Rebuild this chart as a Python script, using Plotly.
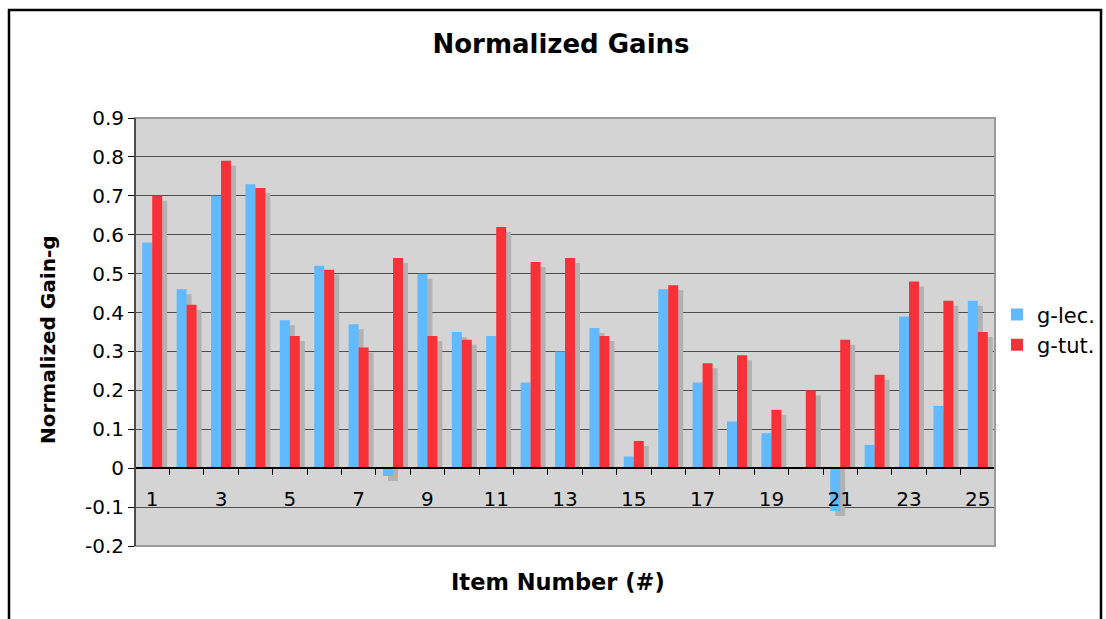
import plotly.graph_objects as go

items = list(range(1, 26))
g_lec = [0.58, 0.46, 0.70, 0.73, 0.38, 0.52, 0.37, -0.02, 0.50, 0.35, 0.34, 0.22, 0.30,
         0.36, 0.03, 0.46, 0.22, 0.12, 0.09, 0.0, -0.11, 0.06, 0.39, 0.16, 0.43]
g_tut = [0.70, 0.42, 0.79, 0.72, 0.34, 0.51, 0.31, 0.54, 0.34, 0.33, 0.62, 0.53, 0.54,
         0.34, 0.07, 0.47, 0.27, 0.29, 0.15, 0.20, 0.33, 0.24, 0.48, 0.43, 0.35]
x_tick_vals = [1, 3, 5, 7, 9, 11, 13, 15, 17, 19, 21, 23, 25]
y_tick_vals = [-0.2, -0.1, 0, 0.1, 0.2, 0.3, 0.4, 0.5, 0.6, 0.7, 0.8, 0.9]
y_tick_text = ["-0.2", "-0.1", "0", "0.1", "0.2", "0.3", "0.4", "0.5", "0.6", "0.7", "0.8", "0.9"]

BLUE = "#61b9ff"
RED = "#f83038"
SHADOW = "#b2b2b2"
FONT = "DejaVu Sans"

W, H = 1106, 619
L, R, T, B = 135, 111, 118, 73
pw, ph = W - L - R, H - T - B
ymin, ymax = -0.2, 0.9
bw = 0.29
dx = 5 / (pw / 25)          # shadow shift in x units
dy = 5 / (ph / (ymax - ymin))  # shadow shift in y units


def shadow(vals):
    return [v - dy if v != 0 else 0 for v in vals]


fig = go.Figure()
fig.add_trace(go.Bar(x=items, y=shadow(g_lec), offset=-bw + dx, width=bw,
                     marker=dict(color=SHADOW, line=dict(width=0)), showlegend=False, hoverinfo="skip"))
fig.add_trace(go.Bar(x=items, y=shadow(g_tut), offset=dx, width=bw,
                     marker=dict(color=SHADOW, line=dict(width=0)), showlegend=False, hoverinfo="skip"))
fig.add_trace(go.Bar(x=items, y=g_lec, offset=-bw, width=bw, name="g-lec.",
                     marker=dict(color=BLUE, line=dict(width=0))))
fig.add_trace(go.Bar(x=items, y=g_tut, offset=0, width=bw, name="g-tut.",
                     marker=dict(color=RED, line=dict(width=0))))

zero_pos = (0 - ymin) / (ymax - ymin)

fig.update_layout(
    width=W, height=H,
    margin=dict(l=L, r=R, t=T, b=B, autoexpand=False),
    paper_bgcolor="white",
    plot_bgcolor="#d4d4d4",
    barmode="overlay",
    font=dict(family=FONT, color="black", size=20),
    title=dict(text="<b>Normalized Gains</b>", x=(561 - L) / pw, xref="paper", xanchor="center",
               y=1 - 44 / H, yanchor="middle", font=dict(size=26, family=FONT)),
    legend=dict(x=(997 - L) / pw, y=0.505, xanchor="left", yanchor="middle",
                font=dict(size=21), bgcolor="rgba(0,0,0,0)", itemwidth=30),
    xaxis=dict(range=[0.5, 25.5], anchor="free", position=zero_pos,
               tickmode="array", tickvals=x_tick_vals, ticktext=[str(v) for v in x_tick_vals],
               ticks="outside", ticklen=0, ticklabelstandoff=13,
               minor=dict(tickvals=[i + 0.5 for i in range(1, 26)], ticks="outside",
                          ticklen=6, tickcolor="black", tickwidth=1, showgrid=False),
               showline=True, linecolor="black", linewidth=1.5,
               showgrid=False, zeroline=False, tickfont=dict(size=20)),
    yaxis=dict(range=[ymin, ymax], tickmode="array", tickvals=y_tick_vals, ticktext=y_tick_text,
               ticks="outside", ticklen=6, tickcolor="black",
               showline=False, showgrid=True, gridcolor="#4d4d4d", gridwidth=1,
               zeroline=False, tickfont=dict(size=20)),
    shapes=[
        # plot area frame
        dict(type="rect", xref="paper", yref="paper", x0=0, x1=1, y0=0, y1=1,
             line=dict(color="#9a9a9a", width=2), layer="above"),
        # left axis line
        dict(type="line", xref="paper", yref="paper", x0=0, x1=0, y0=0, y1=1,
             line=dict(color="#333333", width=1.5), layer="above"),
        # outer frame
        dict(type="rect", xref="paper", yref="paper",
             x0=(9 - L) / pw, x1=(1101 - L) / pw,
             y0=(H - B - 640) / ph, y1=(H - B - 10) / ph,
             line=dict(color="black", width=2.5)),
    ],
    annotations=[
        dict(text="<b>Item Number (#)</b>", xref="paper", yref="paper",
             x=(558 - L) / pw, y=(H - B - 582) / ph, xanchor="center", yanchor="middle",
             showarrow=False, font=dict(size=22.5, family=FONT)),
        dict(text="<b>Normalized Gain-g</b>", xref="paper", yref="paper",
             x=(48 - L) / pw, y=(H - B - 340) / ph, xanchor="center", yanchor="middle",
             textangle=-90, showarrow=False, font=dict(size=20, family=FONT)),
    ],
)

fig.write_html("out.html", config={"displayModeBar": False},
               post_script="document.body.style.margin='0';")
